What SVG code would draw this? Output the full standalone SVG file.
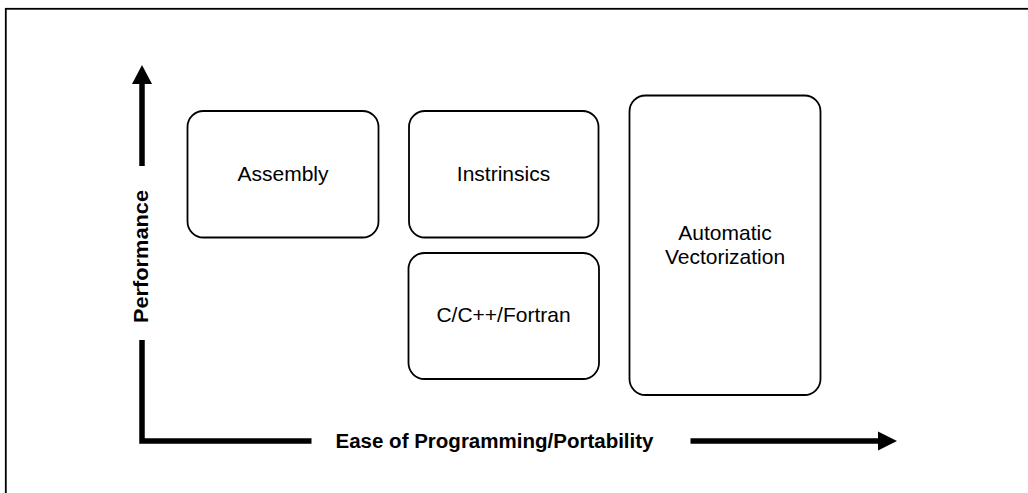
<svg xmlns="http://www.w3.org/2000/svg" width="1028" height="493" viewBox="0 0 1028 493">
<style>
.box{fill:#fff;stroke:#000;stroke-width:1.8}
.lbl{font-family:"Liberation Sans",Arial,sans-serif;font-size:21px;fill:#000;text-anchor:middle}
.axl{font-family:"Liberation Sans",Arial,sans-serif;font-size:20px;font-weight:bold;fill:#000;text-anchor:middle}
.ax{fill:none;stroke:#000;stroke-width:5.5;stroke-linejoin:miter}
</style>
<rect width="1028" height="493" fill="#fff"/>
<rect x="5.8" y="8.8" width="1040" height="500" fill="none" stroke="#000" stroke-width="1.8"/>
<g id="connectors">
<path class="ax" d="M142,83 V166"/>
<polygon points="142,65 132,84 152,84" fill="#000"/>
<path class="ax" d="M142,340 V441 H311.5"/>
<path class="ax" d="M690.5,441 H879"/>
<polygon points="897,441 878,431.5 878,450.5" fill="#000"/>
<text class="axl" x="494.5" y="447.5" textLength="318" lengthAdjust="spacingAndGlyphs">Ease of Programming/Portability</text>
<text class="axl" transform="translate(148,256.5) rotate(-90)" x="0" y="0" textLength="133" lengthAdjust="spacingAndGlyphs">Performance</text>
</g>
<g id="assembly">
<rect class="box" x="187.5" y="111" width="191" height="126.5" rx="16"/>
<text class="lbl" x="283" y="181">Assembly</text>
</g>
<g id="intrinsics">
<rect class="box" x="409" y="111" width="189.5" height="126.5" rx="16"/>
<text class="lbl" x="503.5" y="181">Instrinsics</text>
</g>
<g id="cfortran">
<rect class="box" x="408.5" y="253" width="190.5" height="126" rx="16"/>
<text class="lbl" x="503.5" y="321.5">C/C++/Fortran</text>
</g>
<g id="autovec">
<rect class="box" x="629.5" y="95.5" width="191" height="299.5" rx="16"/>
<text class="lbl" x="725" y="239.5">Automatic</text>
<text class="lbl" x="725" y="263.5">Vectorization</text>
</g>
</svg>
